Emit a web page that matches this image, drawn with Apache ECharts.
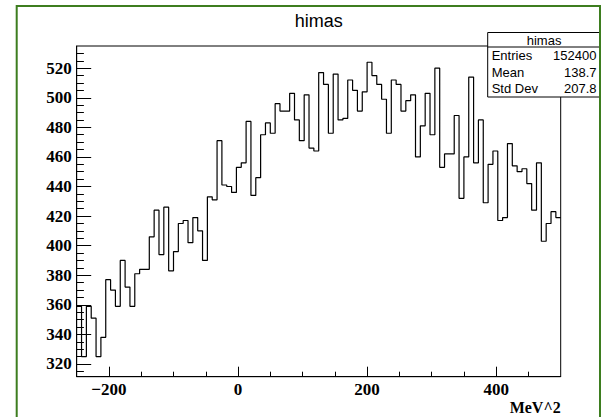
<!DOCTYPE html>
<html><head><meta charset="utf-8">
<script src="https://cdn.jsdelivr.net/npm/echarts@6/dist/echarts.min.js"></script>
<style>html,body{margin:0;padding:0;background:#fff}#c{width:602px;height:417px}</style>
</head><body><div id="c"></div>
<script>
// ---- histogram definition ----
const histTitle = 'himas';
const xTitle = 'MeV^2';
const xMin = -250, xMax = 500, binWidth = 7.5;
const yMin = 311.4, yMax = 535;
const counts = [
  359, 325, 359, 351, 325, 338, 377, 370, 359, 390,
  372, 359, 381, 384, 384, 406, 424, 394, 426, 383,
  396, 415, 417, 402, 419, 410, 390, 433, 431, 471,
  441, 440, 436, 453, 456, 484, 434, 446, 475, 483,
  476, 496, 491, 491, 503, 485, 471, 502, 466, 464,
  517, 509, 476, 516, 485, 486, 512, 505, 491, 504,
  524, 515, 509, 499, 476, 512, 509, 491, 498, 502,
  460, 481, 503, 475, 520, 453, 462, 462, 488, 432,
  460, 514, 456, 485, 429, 455, 464, 417, 419, 469,
  454, 450, 452, 442, 424, 456, 403, 415, 423, 419
];
const xMajorTicks = [-200, 0, 200, 400];
const xMinorTicks = [-150, -100, -50, 50, 100, 150, 250, 300, 350, 450];
const yMajorTicks = [320, 340, 360, 380, 400, 420, 440, 460, 480, 500, 520];
const yMinorTicks = [315, 325, 330, 335, 345, 350, 355, 365, 370, 375, 385, 390, 395,
  405, 410, 415, 425, 430, 435, 445, 450, 455, 465, 470, 475, 485, 490, 495,
  505, 510, 515, 525, 530];
const statNames = ['Entries', 'Mean', 'Std Dev'];
const statValues = ['152400', '138.7', '207.8'];

// ---- build step data from bins ----
const stepData = counts.map((v, i) => [xMin + i * binWidth, v]);
stepData.push([xMax, counts[counts.length - 1]]);

const serif = "'Liberation Serif','Times New Roman',serif";
const sans = "'Liberation Sans',Arial,Helvetica,sans-serif";
const black = '#000';

const G = { left: 76.7, right: 41.3, top: 46, bottom: 40.3 };

const chart = echarts.init(document.getElementById('c'), null, { renderer: 'svg', width: 602, height: 417 });

const fmtX = v => (v < 0 ? '\u2212' + Math.abs(v) : String(v));

const boxL = 487.7, boxT = 32.5, boxR = 600.5, boxB = 97, sepY = 47;
const rowH = (boxB - sepY) / 3;

const graphics = [
  { type: 'rect', z: 100, shape: { x: boxL, y: boxT, width: boxR - boxL, height: boxB - boxT },
    style: { fill: '#fff', stroke: black, lineWidth: 1 } },
  { type: 'line', z: 101, shape: { x1: boxL, y1: sepY, x2: boxR, y2: sepY }, style: { stroke: black, lineWidth: 1 } },
  { type: 'text', z: 101, style: { text: histTitle, x: (boxL + boxR) / 2, y: (boxT + sepY) / 2 + 0.5,
      align: 'center', verticalAlign: 'middle', font: '13px ' + sans, fill: black } }
];
statNames.forEach((n, i) => {
  const cy = sepY + rowH * (i + 0.5);
  graphics.push({ type: 'text', z: 101, style: { text: n, x: boxL + 4, y: cy, align: 'left', verticalAlign: 'middle', font: '13px ' + sans, fill: black } });
  graphics.push({ type: 'text', z: 101, style: { text: statValues[i], x: boxR - 4, y: cy, align: 'right', verticalAlign: 'middle', font: '13px ' + sans, fill: black } });
});
// pad border
graphics.push({ type: 'rect', z: 102, shape: { x: 16.7, y: 6, width: 583.3, height: 430 },
  style: { fill: 'none', stroke: '#3d7d1f', lineWidth: 2 } });

const option = {
  animation: false,
  backgroundColor: '#fff',
  title: {
    text: histTitle, left: 318.7, top: 12, textAlign: 'center', padding: 0,
    textStyle: { fontFamily: sans, fontSize: 18, fontWeight: 'normal', color: black }
  },
  grid: { left: G.left, right: G.right, top: G.top, bottom: G.bottom, show: true,
          borderColor: black, borderWidth: 1, backgroundColor: 'transparent', containLabel: false, outerBoundsMode: 'none' },
  xAxis: [
    { type: 'value', min: xMin, max: xMax, position: 'bottom',
      name: xTitle, nameLocation: 'end', nameGap: 0,
      nameTextStyle: { fontFamily: serif, fontWeight: 'bold', fontSize: 16, color: black,
                       align: 'right', verticalAlign: 'top', padding: [23, 0, 0, 0] },
      axisLine: { show: true, onZero: false, lineStyle: { color: black, width: 1 } },
      axisTick: { show: true, inside: true, length: 10, customValues: xMajorTicks, lineStyle: { color: black, width: 1 } },
      axisLabel: { show: true, customValues: xMajorTicks, formatter: fmtX, margin: 4,
                   fontFamily: serif, fontWeight: 'bold', fontSize: 17, color: black },
      splitLine: { show: false }, minorTick: { show: false } },
    { type: 'value', min: xMin, max: xMax, position: 'bottom',
      axisLine: { show: false, onZero: false },
      axisTick: { show: true, inside: true, length: 5, customValues: xMinorTicks, lineStyle: { color: black, width: 1 } },
      axisLabel: { show: false }, splitLine: { show: false } }
  ],
  yAxis: [
    { type: 'value', min: yMin, max: yMax, position: 'left',
      axisLine: { show: true, onZero: false, lineStyle: { color: black, width: 1 } },
      axisTick: { show: true, inside: true, length: 14.5, customValues: yMajorTicks, lineStyle: { color: black, width: 1 } },
      axisLabel: { show: true, customValues: yMajorTicks, margin: 5,
                   fontFamily: serif, fontWeight: 'bold', fontSize: 17, color: black },
      splitLine: { show: false } },
    { type: 'value', min: yMin, max: yMax, position: 'left',
      axisLine: { show: false, onZero: false },
      axisTick: { show: true, inside: true, length: 7.2, customValues: yMinorTicks, lineStyle: { color: black, width: 1 } },
      axisLabel: { show: false }, splitLine: { show: false } }
  ],
  series: [{
    type: 'line', name: histTitle, data: stepData, step: 'end',
    xAxisIndex: 0, yAxisIndex: 0,
    symbol: 'none', showSymbol: false, clip: true,
    lineStyle: { color: black, width: 1.2 }
  }],
  graphic: graphics
};
chart.setOption(option);
</script>
</body></html>
